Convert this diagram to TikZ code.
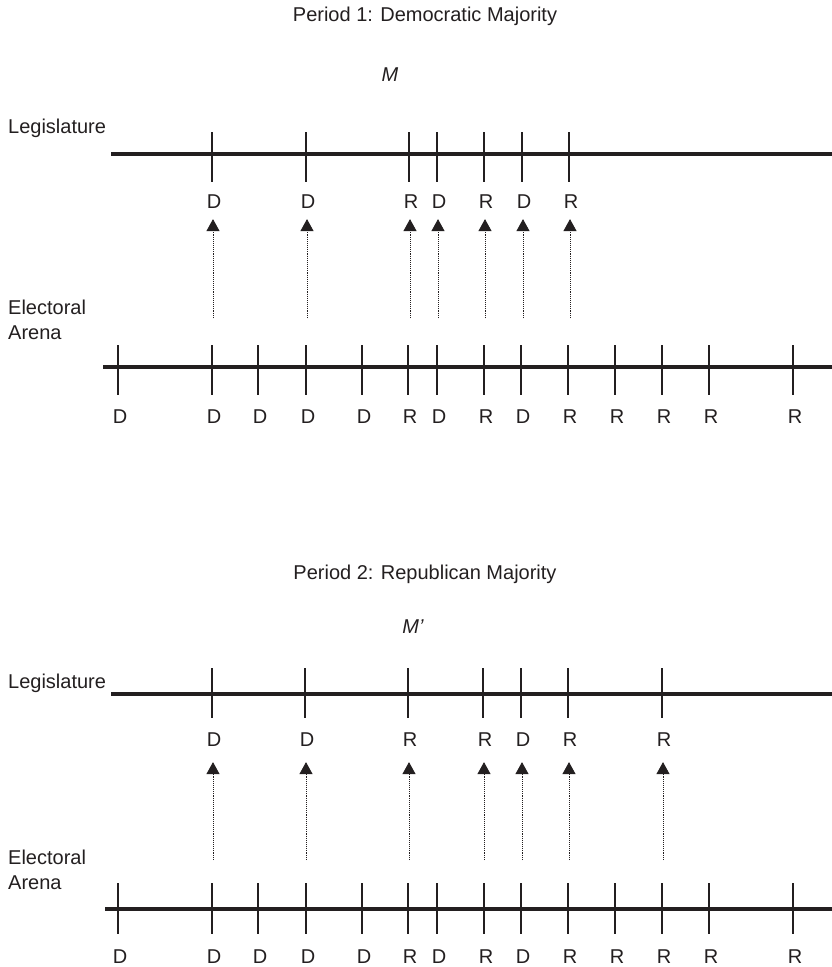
\documentclass[tikz,border=0pt]{standalone}
\usepackage{fontspec}
\setmainfont{Liberation Sans}
\usetikzlibrary{arrows.meta}
\definecolor{ink}{HTML}{231F20}

\begin{document}
\begin{tikzpicture}[x=1pt, y=-1pt, color=ink,
    every node/.style={inner sep=0pt, text=ink, font=\fontsize{20}{25}\selectfont},
    axis/.style={line width=4pt},
    tick/.style={line width=1.4pt},
    vote/.style={densely dotted, line width=0.9pt, -{Triangle[width=13pt,length=12pt]}}]

    \useasboundingbox (0,0) rectangle (832,967);

    % Period 1
    \node (title1) at (425,16) {Period 1: Democratic Majority};
    \node (m1) at (390,75) {\itshape M};
    \node[anchor=west] (leg1) at (8,128) {Legislature};
    \node[anchor=west, align=left] (arena1) at (8,320) {Electoral\\Arena};

    \coordinate (legA1) at (111,154);
    \coordinate (legB1) at (832,154);
    \coordinate (elA1) at (103,367);
    \coordinate (elB1) at (832,367);
    \draw[axis] (legA1) -- (legB1);
    \draw[axis] (elA1) -- (elB1);

    \foreach \x/\p [count=\i] in {212/D,306/D,409/R,437/D,484/R,522/D,569/R}{
        \draw[tick] (\x,132) -- (\x,182);
        \node (seat1-\i) at (\x+2,202) {\p};
        \coordinate (cand1-\i) at (\x+1,318);
        \draw[vote, shorten >=10pt] (cand1-\i) -- (cand1-\i |- seat1-\i.south);
    }
    \foreach \x/\p [count=\i] in {118/D,212/D,258/D,306/D,362/D,408/R,437/D,484/R,521/D,568/R,615/R,662/R,709/R,793/R}{
        \draw[tick] (\x,345) -- (\x,395);
        \node (voter1-\i) at (\x+2,417) {\p};
    }

    % Period 2
    \node (title2) at (425,574) {Period 2: Republican Majority};
    \node (m2) at (413,627) {\itshape M’};
    \node[anchor=west] (leg2) at (8,683) {Legislature};
    \node[anchor=west, align=left] (arena2) at (8,870) {Electoral\\Arena};

    \coordinate (legA2) at (111,694);
    \coordinate (legB2) at (832,694);
    \coordinate (elA2) at (105,909);
    \coordinate (elB2) at (832,909);
    \draw[axis] (legA2) -- (legB2);
    \draw[axis] (elA2) -- (elB2);

    \foreach \x/\p [count=\i] in {212/D,305/D,408/R,483/R,521/D,568/R,662/R}{
        \draw[tick] (\x,668) -- (\x,718);
        \node (seat2-\i) at (\x+2,740) {\p};
        \coordinate (cand2-\i) at (\x+1,860);
        \draw[vote, shorten >=15pt] (cand2-\i) -- (cand2-\i |- seat2-\i.south);
    }
    \foreach \x/\p [count=\i] in {118/D,212/D,258/D,306/D,362/D,408/R,437/D,484/R,521/D,568/R,615/R,662/R,709/R,793/R}{
        \draw[tick] (\x,883) -- (\x,934);
        \node (voter2-\i) at (\x+2,957) {\p};
    }

\end{tikzpicture}
\end{document}
